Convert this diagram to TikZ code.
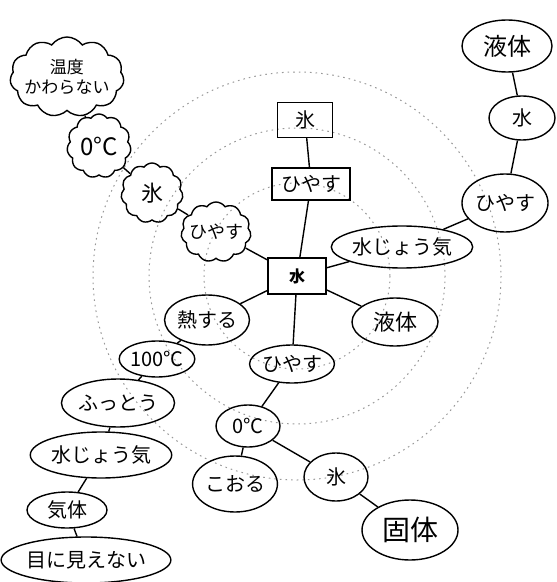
\documentclass[tikz,border=0pt]{standalone}
\usepackage{fontspec}
\newfontfamily\jp{Noto Sans CJK JP}
\usetikzlibrary{shapes.geometric,shapes.symbols}
\tikzset{
  ring/.style={gray!80,line width=0.5pt,dash pattern=on 0.8pt off 2pt},
  link/.style={line width=0.7pt},
  rbox/.style={draw,line width=0.7pt,inner sep=0pt,font=\jp\fontsize{10}{11}\selectfont},
  oval/.style={ellipse,draw,line width=0.7pt,inner sep=0pt,font=\jp\fontsize{10}{11}\selectfont},
  puff/.style={cloud,cloud puffs=11,cloud puff arc=110,cloud ignores aspect,draw,line width=0.7pt,
    inner sep=-8pt,font=\jp\fontsize{9}{10}\selectfont,align=center}
}
\begin{document}
\begin{tikzpicture}[x=0.5pt,y=-0.5pt]
    \useasboundingbox (0,0) rectangle (556,582);
    % rings
    \foreach \r in {93,148,204}
      \draw[ring] (297,276) circle[radius=\r];
    % center
    \node[rbox,fill=white,minimum width=29pt,minimum height=18pt,font=\jp\bfseries\fontsize{8}{9}\selectfont] (water) at (297,276) {水};
    % up
    \node[rbox,minimum width=39pt,minimum height=16pt] (boxcool) at (311,184) {ひやす};
    \node[rbox,minimum width=27.5pt,minimum height=17.5pt] (boxice) at (305,120) {氷};
    % right
    \node[oval,minimum width=52pt,minimum height=21pt] (steamR) at (402,247) {水じょう気};
    \node[oval,minimum width=43pt,minimum height=29pt] (coolR) at (505,203) {ひやす};
    \node[oval,minimum width=33pt,minimum height=22pt] (waterTR) at (522,118) {水};
    \node[oval,minimum width=45pt,minimum height=26pt,font=\jp\fontsize{12}{13}\selectfont] (liquidT) at (507,46) {液体};
    \node[oval,minimum width=43pt,minimum height=24pt,font=\jp\fontsize{11}{12}\selectfont] (liquidM) at (395,322) {液体};
    % down
    \node[oval,minimum width=40pt,minimum height=19pt] (coolB) at (292,364) {ひやす};
    \node[oval,minimum width=32pt,minimum height=21pt] (zeroB) at (248,426) {0°C};
    \node[oval,minimum width=38pt,minimum height=28pt] (freeze) at (235,484) {こおる};
    \node[oval,minimum width=32pt,minimum height=24pt] (iceB) at (336,477) {氷};
    \node[oval,minimum width=48pt,minimum height=30pt,font=\jp\fontsize{14}{15}\selectfont] (solid) at (410,530) {固体};
    % down left
    \node[oval,minimum width=36pt,minimum height=25pt] (heat) at (207,320) {熱する};
    \node[oval,minimum width=36pt,minimum height=18pt] (hundred) at (157,359) {100°C};
    \node[oval,minimum width=47pt,minimum height=24pt] (boil) at (118,403) {ふっとう};
    \node[oval,minimum width=59pt,minimum height=23pt] (steamL) at (101,455) {水じょう気};
    \node[oval,minimum width=40pt,minimum height=18pt] (gas) at (67,510) {気体};
    \node[oval,minimum width=69pt,minimum height=23pt] (invisible) at (86,560) {目に見えない};
    % up left
    \node[puff,minimum width=35pt,minimum height=30pt] (cloudcool) at (216,232) {ひやす};
    \node[puff,minimum width=31pt,minimum height=30pt,font=\jp\fontsize{11}{12}\selectfont] (cloudice) at (152,193) {氷};
    \node[puff,minimum width=32pt,minimum height=32pt,font=\jp\fontsize{12}{13}\selectfont] (cloudzero) at (99,146) {0°C};
    \node[puff,minimum width=57pt,minimum height=40pt,inner sep=-12pt,font=\jp\fontsize{8.5}{10}\selectfont] (cloudtemp) at (67,77) {温度\\かわらない};
    % links
    \draw[link] (water) -- (boxcool) -- (boxice);
    \draw[link] (water) -- (steamR) -- (coolR) -- (waterTR) -- (liquidT);
    \draw[link] (water) -- (liquidM);
    \draw[link] (water) -- (coolB) -- (zeroB) -- (freeze);
    \draw[link] (zeroB) -- (iceB) -- (solid);
    \draw[link] (water) -- (heat) -- (hundred) -- (boil) -- (steamL) -- (gas) -- (invisible);
    \draw[link] (water) -- (cloudcool) -- (cloudice) -- (cloudzero) -- (cloudtemp);
  \end{tikzpicture}
\end{document}
